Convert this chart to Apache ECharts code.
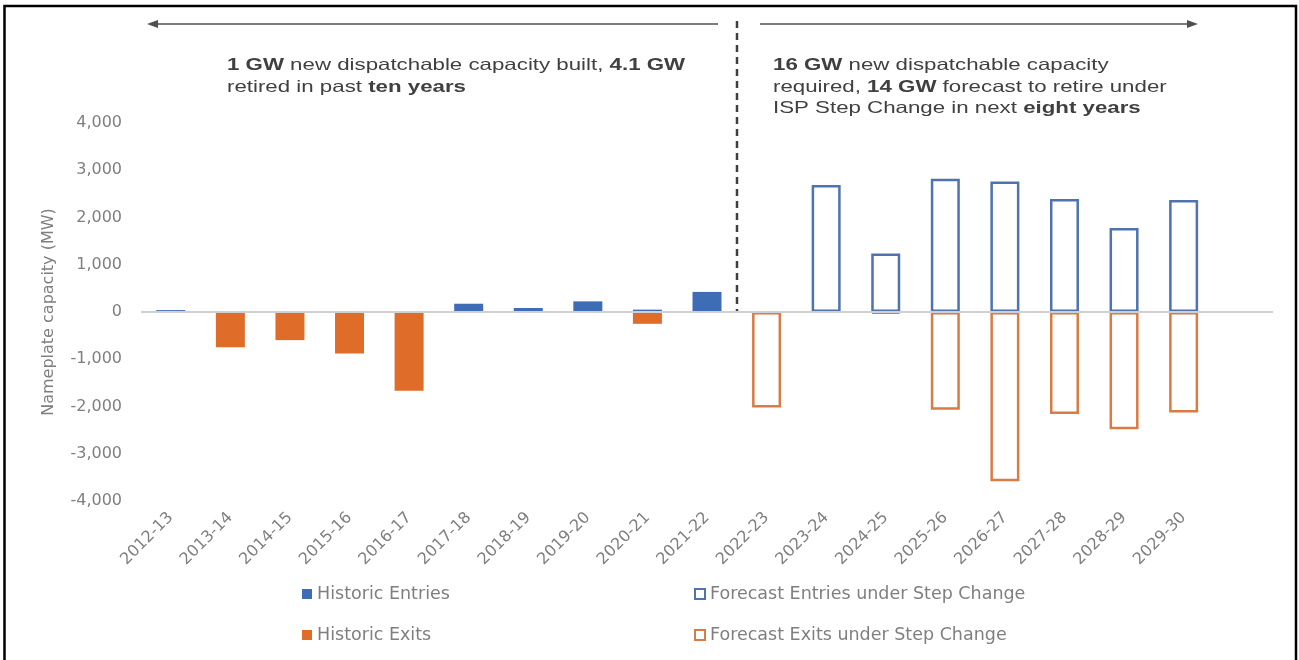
<!DOCTYPE html>
<html>
<head>
<meta charset="utf-8">
<title>Dispatchable capacity entries and exits</title>
<script src="https://cdn.jsdelivr.net/npm/echarts@6/dist/echarts.min.js"></script>
<style>
  html, body { margin: 0; padding: 0; background: #fff; }
  #chart { width: 1299px; height: 660px; }
</style>
</head>
<body>
<div id="chart"></div>
<script>
// financial years (last slot left blank so the zero line runs past 2029-30)
const years = [
  '2012-13', '2013-14', '2014-15', '2015-16', '2016-17', '2017-18',
  '2018-19', '2019-20', '2020-21', '2021-22', '2022-23', '2023-24',
  '2024-25', '2025-26', '2026-27', '2027-28', '2028-29', '2029-30', ''
]

// MW
const historicEntries = [40, null, null, null, null, 175, 85, 225, 50, 425, null, null, null, null, null, null, null, null, null]
const historicExits = [null, -745, -595, -880, -1665, null, null, null, -250, null, null, null, null, null, null, null, null, null, null]
const forecastEntries = [null, null, null, null, null, null, null, null, null, null, null, 2690, 1240, 2820, 2760, 2390, 1780, 2370, null]
const forecastExits = [null, null, null, null, null, null, null, null, null, null, -2020, null, -30, -2070, -3580, -2160, -2480, -2125, null]

const yTicks = { min: -4000, max: 4000, step: 1000 }

const blue = '#3e6db5'
const orange = '#e06c2a'
const blueLine = '#4e73ae'
const orangeLine = '#d97b45'
const grey = '#7f7f7f'
const dark = '#404040'

const chart = echarts.init(document.getElementById('chart'))

const legendBase = {
  icon: 'rect',
  itemWidth: 10,
  itemHeight: 10,
  padding: 0,
  selectedMode: false,
  textStyle: { color: grey, fontFamily: 'DejaVu Sans', fontSize: 17.5 }
}

// annotation text, bold runs marked with {b|...}
const noteStyle = (size) => ({
  fill: dark,
  fontFamily: 'Liberation Sans',
  fontSize: size,
  lineHeight: 21.5,
  textVerticalAlign: 'top',
  rich: {
    b: { fontWeight: 'bold', fontFamily: 'Liberation Sans', fontSize: size, lineHeight: 21.5, fill: dark }
  }
})

const option = {
  animation: false,
  backgroundColor: '#fff',
  grid: { left: 141, right: 26, top: 123, height: 378 },
  xAxis: {
    type: 'category',
    data: years,
    axisLine: { show: false, onZero: false },
    axisTick: { show: false },
    axisLabel: {
      interval: 0,
      rotate: 45,
      margin: 14,
      color: grey,
      fontFamily: 'DejaVu Sans',
      fontSize: 16
    },
    splitLine: { show: false }
  },
  yAxis: {
    type: 'value',
    min: yTicks.min,
    max: yTicks.max,
    interval: yTicks.step,
    name: 'Nameplate capacity (MW)',
    nameLocation: 'middle',
    nameGap: 84,
    nameTextStyle: { color: grey, fontFamily: 'DejaVu Sans', fontSize: 16 },
    axisLine: { show: false },
    axisTick: { show: false },
    splitLine: { show: false },
    axisLabel: {
      margin: 19,
      color: grey,
      fontFamily: 'DejaVu Sans',
      fontSize: 16,
      formatter: v => v.toLocaleString('en-US')
    }
  },
  legend: [
    Object.assign({ data: ['Historic Entries'], left: 302, top: 585 }, legendBase),
    Object.assign({ data: ['Forecast Entries under Step Change'], left: 694, top: 585 }, legendBase),
    Object.assign({ data: ['Historic Exits'], left: 302, top: 626 }, legendBase),
    Object.assign({ data: ['Forecast Exits under Step Change'], left: 694, top: 626 }, legendBase)
  ],
  series: [
    {
      name: 'Historic Entries',
      type: 'bar',
      stack: 'capacity',
      barWidth: 29,
      data: historicEntries,
      itemStyle: { color: blue }
    },
    {
      name: 'Historic Exits',
      type: 'bar',
      stack: 'capacity',
      barWidth: 29,
      data: historicExits,
      itemStyle: { color: orange }
    },
    {
      name: 'Forecast Entries under Step Change',
      type: 'bar',
      stack: 'capacity',
      barWidth: 29,
      data: forecastEntries,
      itemStyle: { color: '#fff', borderColor: blueLine, borderWidth: 2.5 }
    },
    {
      name: 'Forecast Exits under Step Change',
      type: 'bar',
      stack: 'capacity',
      barWidth: 29,
      data: forecastExits,
      itemStyle: { color: '#fff', borderColor: orangeLine, borderWidth: 2.5 },
      // zero line drawn last so it sits over the open ends of the outlined bars
      markLine: {
        silent: true,
        symbol: ['none', 'none'],
        label: { show: false },
        lineStyle: { color: '#d0d0d0', width: 2, type: 'solid' },
        data: [{ yAxis: 0 }]
      }
    }
  ],
  graphic: [
    // frame round the figure
    {
      type: 'rect',
      shape: { x: 4.5, y: 6, width: 1291.5, height: 700 },
      style: { fill: 'none', stroke: '#000', lineWidth: 2.5 },
      silent: true
    },
    // past / future arrows
    {
      type: 'line',
      shape: { x1: 718, y1: 24, x2: 156, y2: 24 },
      style: { stroke: '#505050', lineWidth: 1.5 }
    },
    {
      type: 'polygon',
      shape: { points: [[147, 24], [158, 20], [158, 28]] },
      style: { fill: '#505050' }
    },
    {
      type: 'line',
      shape: { x1: 760, y1: 24, x2: 1188, y2: 24 },
      style: { stroke: '#505050', lineWidth: 1.5 }
    },
    {
      type: 'polygon',
      shape: { points: [[1198, 24], [1187, 20], [1187, 28]] },
      style: { fill: '#505050' }
    },
    // divider between historic and forecast years
    {
      type: 'line',
      shape: { x1: 737, y1: 21, x2: 737, y2: 312 },
      style: { stroke: dark, lineWidth: 2.5, lineDash: [7, 5] }
    },
    {
      type: 'text',
      x: 227,
      y: 55,
      scaleX: 1.35,
      style: Object.assign({
        text: '{b|1 GW} new dispatchable capacity built, {b|4.1 GW}\nretired in past {b|ten years}'
      }, noteStyle(16.5))
    },
    {
      type: 'text',
      x: 773,
      y: 55,
      scaleX: 1.35,
      style: Object.assign({
        text: '{b|16 GW} new dispatchable capacity\nrequired, {b|14 GW} forecast to retire under\nISP Step Change in next {b|eight years}'
      }, noteStyle(16.5))
    }
  ]
}

chart.setOption(option)

window.addEventListener('resize', () => {
  chart.resize()
})
</script>
</body>
</html>
